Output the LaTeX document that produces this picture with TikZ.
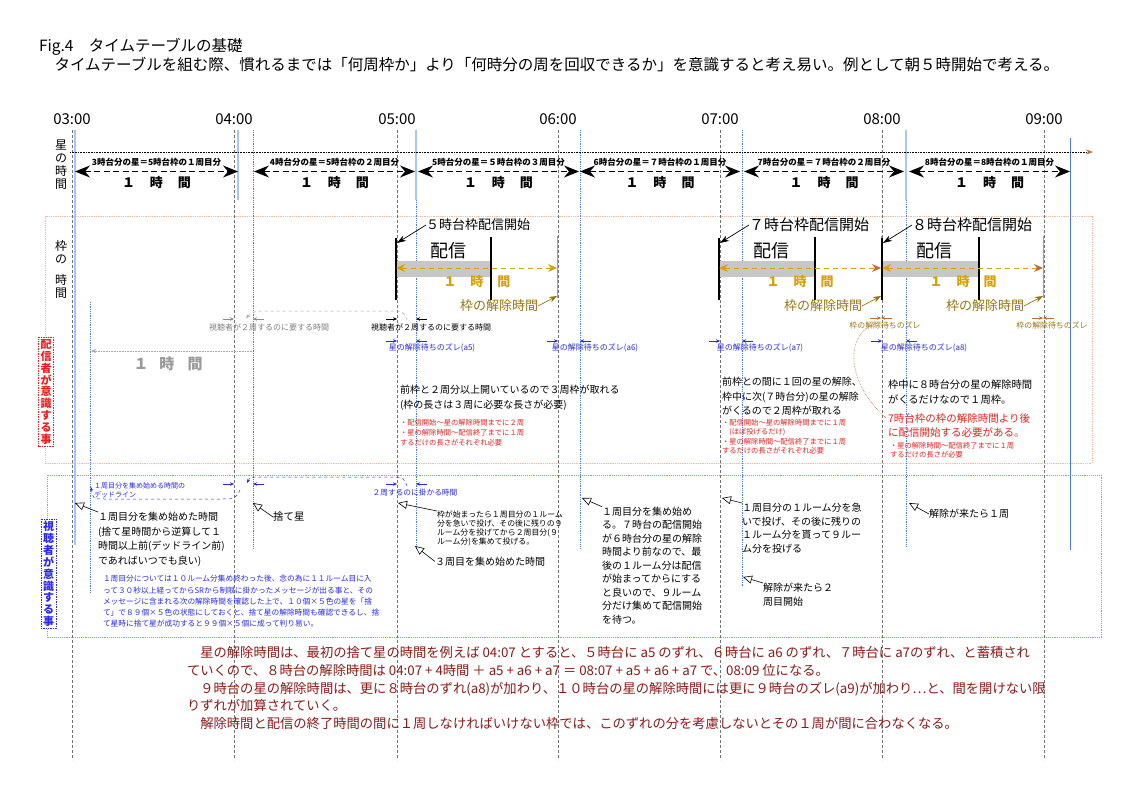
\documentclass[tikz,border=0pt]{standalone}
\usepackage{fontspec}
\setmainfont{Noto Sans CJK JP}
\usetikzlibrary{arrows.meta}
\definecolor{gold}{RGB}{214,162,8}
\definecolor{olive}{RGB}{150,118,20}
\definecolor{rust}{RGB}{185,110,55}
\definecolor{darkred}{RGB}{140,25,25}
\definecolor{alertred}{RGB}{235,30,30}
\definecolor{textblue}{RGB}{40,40,235}
\definecolor{starblue}{RGB}{70,120,240}
\definecolor{paleblue}{RGB}{165,198,250}
\definecolor{salmon}{RGB}{250,185,160}
\newcommand{\fsz}[2]{\fontsize{#1}{#2}\selectfont}

\begin{document}
\begin{tikzpicture}[x=1pt, y=-1pt,
  every node/.style={inner sep=0pt, outer sep=0pt},
  hourlbl/.style={font=\fsz{15}{15}},
  hourline/.style={black!55, densely dashed, line width=0.5pt},
  starline/.style={starblue, densely dotted, line width=0.8pt},
  starlinel/.style={paleblue, line width=1.5pt},
  starspan/.style={{Stealth[length=15pt,width=12pt,inset=5pt]}-{Stealth[length=15pt,width=12pt,inset=5pt]}, dash pattern=on 6pt off 3.5pt, line width=1pt},
  spanlbl/.style={font=\fsz{8.5}{8.5}\bfseries},
  hourbig/.style={font=\fsz{13}{13}\bfseries},
  band/.style={fill=black!22},
  airline/.style={line width=1.6pt},
  relline/.style={gold, line width=0.8pt},
  startptr/.style={-{Stealth[length=9pt,width=6pt]}, line width=0.7pt},
  relptr/.style={olive, -{Stealth[length=8pt,width=6pt]}, line width=0.7pt},
  dimarrow/.style={-{Stealth[length=4pt,width=3.5pt]}, line width=0.6pt},
  gaplbl/.style={font=\fsz{8}{8}, text=textblue},
  note/.style={font=\fsz{10}{15}, align=left, anchor=north west},
  rednote/.style={font=\fsz{7.3}{10}, text=alertred, align=left, anchor=north west},
  viewnote/.style={font=\fsz{10}{14.7}, align=left, anchor=north west},
  ptr/.style={-{Triangle[open,length=9pt,width=8pt]}, line width=0.6pt},
  rolelbl/.style={font=\fsz{11}{11.9}\bfseries, align=center, densely dotted, inner sep=2pt, fill=white, line width=0.7pt},
  bcurve/.style={textblue, dashed, line width=0.5pt, -{Stealth[length=4pt,width=3pt]}}]

\fill[white] (0,0) rectangle (1123,794);
\useasboundingbox (0,0) rectangle (1123,794);

\node[font=\fsz{15.5}{19}, align=left, anchor=north west] (title) at (39,38) {Fig.4　タイムテーブルの基礎\\　タイムテーブルを組む際、慣れるまでは「何周枠か」より「何時分の周を回収できるか」を意識すると考え易い。例として朝５時開始で考える。};

\draw[salmon, densely dotted, line width=0.8pt] (45,216) rectangle (1092,463);
\draw[starblue!70, densely dotted, line width=0.9pt] (47,475) rectangle (1101,637);

\foreach \xh/\th [count=\i] in {72/03:00, 234/04:00, 397/05:00, 558/06:00, 720/07:00, 882/08:00, 1044/09:00} {
  \node[hourlbl] (hl\i) at (\xh,119) {\th};
  \coordinate (ht\i) at (\xh,130);
  \coordinate (hb\i) at (\xh,760);
  \draw[hourline] (ht\i) -- (hb\i);
}

\foreach \xs/\yb [count=\i] in {253/548, 416/548, 580/548, 742/587, 906/546} {
  \coordinate (bt\i) at (\xs,130);
  \coordinate (bb\i) at (\xs,\yb);
  \draw[starline] (bt\i) -- (bb\i);
}
\foreach \xs/\yb [count=\i] in {75/545, 238/200, 416/200, 906/200} {
  \coordinate (lt\i) at (\xs,130);
  \coordinate (lb\i) at (\xs,\yb);
  \draw[starlinel] (lt\i) -- (lb\i);
}
\coordinate (zt) at (1070,138);
\coordinate (zb) at (1070,550);
\draw[starblue, line width=0.6pt] (zt) -- (zb);
\coordinate (dt) at (90,302);
\coordinate (db) at (90,593);
\draw[starline] (dt) -- (db);

\node[font=\fsz{12}{13}, align=center, anchor=north] (starcol) at (61,139.5) {星\\の\\時\\間};
\node[font=\fsz{12}{13}, align=center, anchor=north] (framecol) at (61,240) {枠\\の};
\node[font=\fsz{12}{13}, align=center, anchor=north] (framecolb) at (61,274) {時\\間};

\coordinate (tl1) at (70,152);
\coordinate (tl2) at (1093,152);
\draw[densely dotted, line width=0.6pt, -{Stealth[rust,length=7pt,width=5pt]}] (tl1) -- (tl2);

\foreach \xa/\xb/\tx [count=\i] in {75/238/3時台分の星＝5時台枠の１周目分, 254/415/4時台分の星＝5時台枠の２周目分, 418/579/5時台分の星＝５時台枠の３周目分, 580/740/6時台分の星＝７時台枠の１周目分, 744/904/7時台分の星＝７時台枠の２周目分, 909/1070/8時台分の星＝8時台枠の１周目分} {
  \coordinate (sl\i) at (\xa,171.5);
  \coordinate (sr\i) at (\xb,171.5);
  \draw[starspan] (sl\i) -- (sr\i);
  \node[spanlbl] (st\i) at ({(\xa+\xb)/2},162) {\tx};
  \node[hourbig] (sh\i) at ({(\xa+\xb)/2},183) {１\hspace{15pt}時\hspace{15pt}間};
}

\foreach \dg/\xa/\xe/\xr/\sz/\hc [count=\i] in {５/396/491/557/13/gold, ７/719/815/881/15/rust, ８/882/979/1043/15/rust} {
  \coordinate (ft\i) at (\xa,238);
  \coordinate (fb\i) at (\xa,300);
  \coordinate (et\i) at (\xe,237);
  \coordinate (eb\i) at (\xe,300);
  \coordinate (rt\i) at (\xr,236);
  \coordinate (rb\i) at (\xr,298);
  \coordinate (fp\i) at (\xa+1,243);
  \coordinate (rp\i) at (\xr,296);
  \coordinate (dl\i) at (\xa,268);
  \coordinate (dr\i) at (\xr,268);
  \fill[band] (\xa,261) rectangle (\xe,277);
  \draw[airline] (ft\i) -- (fb\i);
  \draw[airline] (et\i) -- (eb\i);
  \draw[relline] (rt\i) -- (rb\i);
  \draw[{Stealth[gold,length=9pt,width=8pt]}-{Stealth[\hc,length=9pt,width=8pt]}, gold, dash pattern=on 5pt off 4pt, line width=0.9pt] (dl\i) -- (dr\i);
  \node[font=\fsz{\sz}{\sz}, anchor=west] (fs\i) at (\xa+30,225) {\dg 時台枠配信開始};
  \draw[startptr] (fs\i.west) -- (fp\i);
  \node[font=\fsz{18}{18}] (fo\i) at (\xa+52,251) {配信};
  \node[font=\fsz{13}{13}\bfseries, text=gold] (fh\i) at (\xa+81,282) {１\hspace{14pt}時\hspace{14pt}間};
  \node[font=\fsz{13}{13}, text=olive, anchor=east] (fr\i) at (\xr-19,306) {枠の解除時間};
  \draw[relptr] (fr\i.east) -- (rp\i);
}

\foreach \xl/\xr/\yy/\cc [count=\i] in {234/253/319/black!45, 397/416/319/black, 234/253/484/textblue, 397/416/484/textblue, 397/416/341/textblue, 558/580/341/textblue, 720/742/341/textblue, 882/906/341/textblue, 881/881/318/rust, 1043/1043/318/rust} {
  \coordinate (dla\i) at (\xl-11,\yy);
  \coordinate (dlb\i) at (\xl,\yy);
  \coordinate (dra\i) at (\xr+11,\yy);
  \coordinate (drb\i) at (\xr,\yy);
  \draw[dimarrow, \cc] (dla\i) -- (dlb\i);
  \draw[dimarrow, \cc] (dra\i) -- (drb\i);
}

\node[font=\fsz{8}{8}, text=black!50] (twog) at (269,327) {視聴者が２周するのに要する時間};
\node[font=\fsz{8}{8}] (twob) at (431,327) {視聴者が２周するのに要する時間};
\coordinate (gc1) at (407,320);
\coordinate (gc4) at (246,318);
\draw[black!35, dashed, line width=0.5pt, -{Stealth[length=4pt,width=3pt]}] (gc1) .. controls (403,311) .. (390,311) -- (268,311) .. controls (254,311) .. (gc4);

\foreach \xc/\nm in {432/a5, 595/a6, 760/a7, 924/a8}
  \node[gaplbl] (gap\nm) at (\xc,348) {星の解除待ちのズレ(\nm)};
\node[font=\fsz{7.9}{7.9}, text=olive] (fz1) at (885,325) {枠の解除待ちのズレ};
\node[font=\fsz{7.9}{7.9}, text=olive] (fz2) at (1052,325) {枠の解除待ちのズレ};
\coordinate (rc1) at (881,322);
\coordinate (rc2) at (886,418);
\draw[rust, densely dotted, line width=0.6pt] (rc1) .. controls (843,330) and (845,382) .. (rc2);

\coordinate (ga1) at (252,351);
\coordinate (ga2) at (91,351);
\draw[black!35, densely dotted, line width=0.6pt, -{Stealth[length=5pt,width=4pt]}] (ga1) -- (ga2);
\node[font=\fsz{15}{15}\bfseries, text=black!40] (gh) at (168,364) {１\hspace{11pt}時\hspace{13pt}間};

\node[rolelbl, text=alertred, draw=alertred] (rl) at (46,392) {配\\信\\者\\が\\意\\識\\す\\る\\事};
\node[rolelbl, text=textblue, draw=textblue] (vl) at (48.5,574) {視\\聴\\者\\が\\意\\識\\す\\る\\事};

\node[note] (n5) at (400,385) {前枠と２周分以上開いているので３周枠が取れる\\(枠の長さは３周に必要な長さが必要)};
\node[rednote] (n5r) at (400,419.3) {・配信開始～星の解除時間までに２周\\・星の解除時間～配信終了までに１周\\するだけの長さがそれぞれ必要};
\node[note, font=\fsz{10}{14.7}] (n7) at (722,377) {前枠との間に１回の星の解除、\\枠中に次(７時台分)の星の解除\\がくるので２周枠が取れる};
\node[rednote, font=\fsz{7.3}{9.3}] (n7r) at (722,419.3) {・配信開始～星の解除時間までに１周\\\hspace{7.3pt}(ほぼ投げるだけ)\\・星の解除時間～配信終了までに１周\\するだけの長さがそれぞれ必要};
\node[note, font=\fsz{10.3}{15}] (n8) at (888,380) {枠中に８時台分の星の解除時間\\がくるだけなので１周枠。};
\node[note, font=\fsz{10.5}{14}, text=alertred] (n8r) at (888,413.7) {7時台枠の枠の解除時間より後\\に配信開始する必要がある。};
\node[rednote, font=\fsz{7.3}{9.3}] (n8s) at (890,442.3) {・星の解除時間～配信終了までに１周\\するだけの長さが必要};

\node[font=\fsz{7}{8.5}, text=textblue, align=left, anchor=north west] (dead) at (94,482.8) {１周目分を集め始める時間の\\デッドライン};
\node[font=\fsz{7.7}{7.7}, text=textblue] (twov) at (415,493) {２周するのに掛かる時間};
\coordinate (bc1) at (407,486);
\coordinate (bc4) at (247,483);
\draw[bcurve] (bc1) .. controls (404,478) .. (392,477) -- (260,477) .. controls (250,477) .. (bc4);
\coordinate (cc1) at (240,490);
\coordinate (cc4) at (91,487);
\draw[bcurve] (cc1) .. controls (235,499) .. (222,499) -- (105,499) .. controls (93,499) .. (cc4);

\node[viewnote] (t1) at (98,512) {１周目分を集め始めた時間\\(捨て星時間から逆算して１\\時間以上前(デッドライン前)\\であればいつでも良い)};
\coordinate (p1) at (75,503);
\draw[ptr] (t1.north west) -- (p1);
\node[font=\fsz{10.5}{10.5}, anchor=west] (t2) at (273,517) {捨て星};
\coordinate (p2) at (253,503);
\draw[ptr] (t2.west) -- (p2);
\node[font=\fsz{7.9}{9}, align=left, anchor=north west] (t3) at (437,511) {枠が始まったら１周目分の１ルーム\\分を急いで投げ、その後に残りの９\\ルーム分を投げてから２周目分(９\\ルーム分)を集めて投げる。};
\coordinate (p3) at (398,503);
\draw[ptr] (t3.north west) -- (p3);
\node[font=\fsz{10}{10}, anchor=west] (t4) at (435,561.5) {３周目を集め始めた時間};
\coordinate (p4) at (415,546);
\draw[ptr] (t4.west) -- (p4);
\node[viewnote, font=\fsz{10}{13.5}] (t5) at (602,506.7) {１周目分を集め始め\\る。７時台の配信開始\\が６時台分の星の解除\\時間より前なので、最\\後の１ルーム分は配信\\が始まってからにする\\と良いので、９ルーム\\分だけ集めて配信開始\\を待つ。};
\coordinate (p5) at (582,498);
\draw[ptr] (t5.north west) -- (p5);
\node[viewnote, font=\fsz{10}{13.7}] (t6) at (742,503) {１周目分の１ルーム分を急\\いで投げ、その後に残りの\\１ルーム分を貰って９ルー\\ム分を投げる};
\coordinate (p6) at (722,498);
\draw[ptr] (t6.north west) -- (p6);
\node[viewnote, font=\fsz{10}{14}] (t7) at (763,583) {解除が来たら２\\周目開始};
\coordinate (p7) at (743,577);
\draw[ptr] (t7.north west) -- (p7);
\node[font=\fsz{10}{10}, anchor=west] (t8) at (929,514) {解除が来たら１周};
\coordinate (p8) at (909,503);
\draw[ptr] (t8.west) -- (p8);

\node[font=\fsz{7.7}{11.2}, text=textblue, align=left, anchor=north west] (para) at (103,575.4) {１周目分については１０ルーム分集め終わった後、念の為に１１ルーム目に入\\って３０秒以上経ってからSRから制限に掛かったメッセージが出る事と、その\\メッセージに含まれる次の解除時間を確認した上で、１０個×５色の星を「捨\\て」で８９個×５色の状態にしておくと、捨て星の解除時間も確認できるし、捨\\て星時に捨て星が成功すると９９個×５個に成って判り易い。};

\node[font=\fsz{13.3}{17.9}, text=darkred, align=left, anchor=north west] (sum) at (187,646) {　星の解除時間は、最初の捨て星の時間を例えば 04:07 とすると、５時台に a5 のずれ、６時台に a6 のずれ、７時台に a7のずれ、と蓄積され\\ていくので、８時台の解除時間は 04:07 + 4時間 ＋ a5 + a6 + a7 ＝ 08:07 + a5 + a6 + a7 で、08:09 位になる。\\　９時台の星の解除時間は、更に８時台のずれ(a8)が加わり、１０時台の星の解除時間には更に９時台のズレ(a9)が加わり…と、間を開けない限\\りずれが加算されていく。\\　解除時間と配信の終了時間の間に１周しなければいけない枠では、このずれの分を考慮しないとその１周が間に合わなくなる。};
\end{tikzpicture}
\end{document}
